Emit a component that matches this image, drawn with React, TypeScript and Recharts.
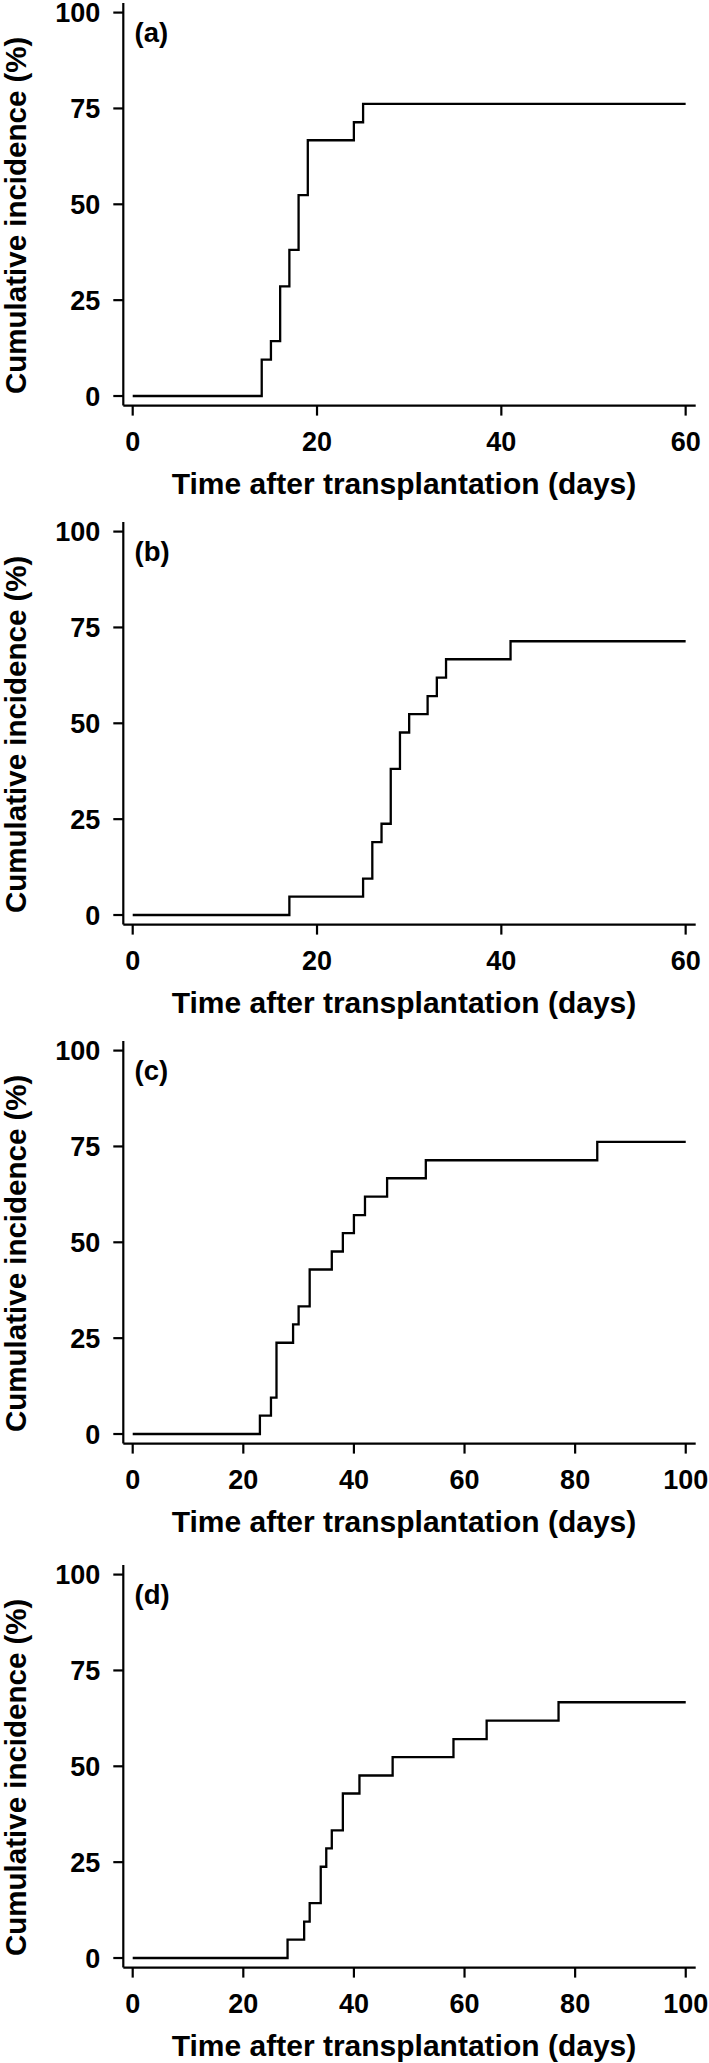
import React from 'react';
import { LineChart, Line, XAxis, YAxis, Label } from 'recharts';

// ---- data ----
const timesA = [0, 14, 15, 16, 17, 18, 19, 24, 25, 60];
const incidenceA = [0, 9.5, 14.3, 28.6, 38.1, 52.4, 66.7, 71.4, 76.2, 76.2];

const timesB = [0, 17, 25, 26, 27, 28, 29, 30, 32, 33, 34, 41, 60];
const incidenceB = [0, 4.8, 9.5, 19.0, 23.8, 38.1, 47.6, 52.4, 57.1, 61.9, 66.7, 71.4, 71.4];

const timesC = [0, 23, 25, 26, 29, 30, 32, 36, 38, 40, 42, 46, 53, 84, 100];
const incidenceC = [0, 4.8, 9.5, 23.8, 28.6, 33.3, 42.9, 47.6, 52.4, 57.1, 61.9, 66.7, 71.4, 76.2, 76.2];

const timesD = [0, 28, 31, 32, 34, 35, 36, 38, 41, 47, 58, 64, 77, 100];
const incidenceD = [0, 4.8, 9.5, 14.3, 23.8, 28.6, 33.3, 42.9, 47.6, 52.4, 57.1, 61.9, 66.7, 66.7];

const panelTags = ['(a)', '(b)', '(c)', '(d)'];
const xTicks60 = [0, 20, 40, 60];
const xTicks100 = [0, 20, 40, 60, 80, 100];
const yTicks = [0, 25, 50, 75, 100];
const xTitle = 'Time after transplantation (days)';
const yTitle = 'Cumulative incidence (%)';

const FONT = '"Liberation Sans", Arial, Helvetica, sans-serif';
const CHART_W = 709;
const CHART_H = 516;
const TOP_PAD = 13;

type PanelProps = {
  times: number[];
  values: number[];
  ticks: number[];
  domain: [number, number];
  tag: string;
  top: number;
};

function Panel({ times, values, ticks, domain, tag, top }: PanelProps) {
  const data = times.map((t, i) => ({ t, v: values[i] }));
  return (
    <div style={{ position: 'absolute', left: 0, top: top - 10, width: CHART_W, height: CHART_H }}>
      <LineChart
        width={CHART_W}
        height={CHART_H}
        data={data}
        margin={{ top: TOP_PAD, right: 13.3, bottom: 0, left: 0 }}
      >
        <XAxis
          dataKey="t"
          type="number"
          domain={domain}
          allowDataOverflow
          ticks={ticks}
          interval={0}
          height={100.4}
          tickSize={10}
          tickMargin={16}
          axisLine={{ stroke: '#000', strokeWidth: 2.2 }}
          tickLine={{ stroke: '#000', strokeWidth: 2.2 }}
          tick={{ fill: '#000', fontSize: 27, fontWeight: 700, fontFamily: FONT }}
        >
          <Label
            content={(props: any) => {
              const vb = props.viewBox || {};
              return (
                <text
                  x={vb.x + vb.width / 2 - 5.5}
                  y={vb.y + 88.7}
                  textAnchor="middle"
                  fontSize={30}
                  fontWeight={700}
                  fontFamily={FONT}
                  fill="#000"
                >
                  {xTitle}
                </text>
              );
            }}
          />
        </XAxis>
        <YAxis
          type="number"
          domain={[-2.5, 102.5]}
          allowDataOverflow
          ticks={yTicks}
          interval={0}
          width={123.3}
          tickSize={10}
          tickMargin={13}
          axisLine={{ stroke: '#000', strokeWidth: 2.2 }}
          tickLine={{ stroke: '#000', strokeWidth: 2.2 }}
          tick={{ fill: '#000', fontSize: 27, fontWeight: 700, fontFamily: FONT }}
        >
          <Label
            content={(props: any) => {
              const vb = props.viewBox || {};
              const cy = vb.y + vb.height / 2 + 11;
              return (
                <g>
                  <text
                    x={26.5}
                    y={cy}
                    transform={`rotate(-90, 26.5, ${cy})`}
                    textAnchor="middle"
                    fontSize={29.5}
                    fontWeight={700}
                    fontFamily={FONT}
                    fill="#000"
                  >
                    {yTitle}
                  </text>
                  <text
                    x={vb.x + vb.width + 11.2}
                    y={vb.y + 38.5}
                    textAnchor="start"
                    fontSize={27.5}
                    fontWeight={700}
                    fontFamily={FONT}
                    fill="#000"
                  >
                    {tag}
                  </text>
                </g>
              );
            }}
          />
        </YAxis>
        <Line
          type="stepAfter"
          dataKey="v"
          stroke="#000"
          strokeWidth={2.3}
          dot={false}
          activeDot={false}
          isAnimationActive={false}
        />
      </LineChart>
    </div>
  );
}

export default function App() {
  return (
    <div style={{ position: 'absolute', left: 0, top: 0, width: 709, height: 2063, background: '#fff', overflow: 'hidden' }}>
      <Panel times={timesA} values={incidenceA} ticks={xTicks60} domain={[-1.02, 61.09]} tag={panelTags[0]} top={0} />
      <Panel times={timesB} values={incidenceB} ticks={xTicks60} domain={[-1.02, 61.09]} tag={panelTags[1]} top={519.1} />
      <Panel times={timesC} values={incidenceC} ticks={xTicks100} domain={[-1.7, 101.8]} tag={panelTags[2]} top={1038.1} />
      <Panel times={timesD} values={incidenceD} ticks={xTicks100} domain={[-1.7, 101.8]} tag={panelTags[3]} top={1561.9} />
    </div>
  );
}
